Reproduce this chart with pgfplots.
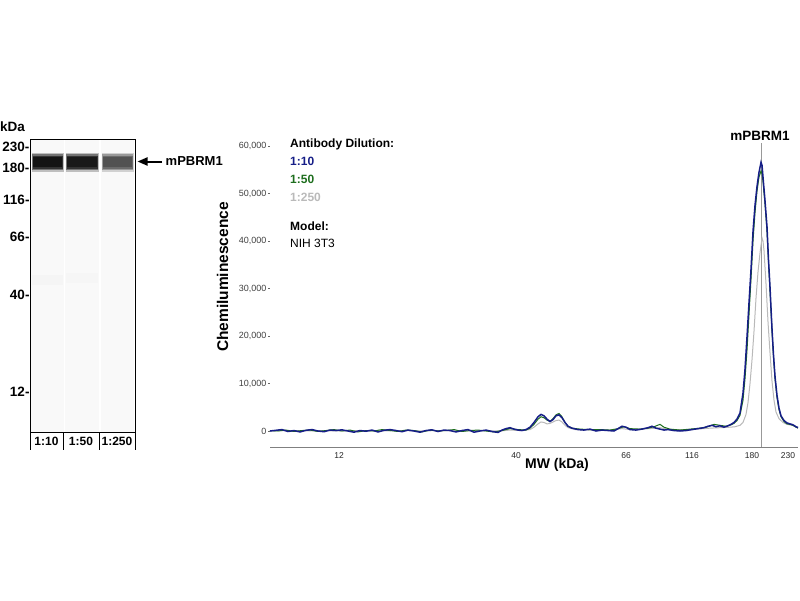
\documentclass[border=0pt]{standalone}
\usepackage{pgfplots}
\pgfplotsset{compat=1.18}
\usepackage{fontspec}
\setmainfont{Liberation Sans}
\usetikzlibrary{arrows.meta}
\definecolor{cblue}{RGB}{22,30,135}
\definecolor{cgreen}{RGB}{30,110,30}
\definecolor{cgray}{RGB}{185,185,185}
\newcommand{\fs}[1]{\fontsize{#1}{#1}\selectfont}
\begin{document}
\begin{tikzpicture}[x=1pt,y=1pt]
\path[use as bounding box] (0,0) rectangle (800,-600);
% ---------------- gel ----------------
\begin{axis}[
  at={(30pt,-432pt)}, anchor=south west,
  scale only axis, width=105pt, height=293pt,
  xmin=30, xmax=135, ymin=-432, ymax=-139,
  axis on top,
  axis line style={line width=1pt, black},
  xtick=\empty,
  ytick={-147,-168,-200,-237,-295,-392},
  yticklabels={230-,180-,116-,66-,40-,12-},
  major tick length=0pt,
  yticklabel style={font=\fs{13.5}\bfseries, inner sep=0.3pt},
  clip=false,
]
% lane backgrounds
\addplot[fill=black!2.5, draw=none] coordinates {(31,-432)(63.5,-432)(63.5,-139)(31,-139)} -- cycle;
\addplot[fill=black!2.5, draw=none] coordinates {(65,-432)(99,-432)(99,-139)(65,-139)} -- cycle;
\addplot[fill=black!2.5, draw=none] coordinates {(100.5,-432)(134,-432)(134,-139)(100.5,-139)} -- cycle;
% faint smudges
\addplot[fill=black!4, draw=none] coordinates {(32,-275)(63,-275)(63,-285)(32,-285)} -- cycle;
\addplot[fill=black!3.5, draw=none] coordinates {(66,-273)(98,-273)(98,-283)(66,-283)} -- cycle;
% lane 1 band
\addplot[fill=black!25, draw=none] coordinates {(31.5,-152.5)(63.5,-152.5)(63.5,-171.5)(31.5,-171.5)} -- cycle;
\addplot[fill=black!55, draw=none] coordinates {(32,-154)(63,-154)(63,-170)(32,-170)} -- cycle;
\addplot[fill=black!80, draw=none] coordinates {(32.5,-155.5)(62.5,-155.5)(62.5,-168.5)(32.5,-168.5)} -- cycle;
\addplot[fill=black!92, draw=none] coordinates {(33,-157)(62,-157)(62,-167)(33,-167)} -- cycle;
% lane 2 band
\addplot[fill=black!25, draw=none] coordinates {(65.5,-152.5)(98.5,-152.5)(98.5,-171.5)(65.5,-171.5)} -- cycle;
\addplot[fill=black!55, draw=none] coordinates {(66,-154)(98,-154)(98,-170)(66,-170)} -- cycle;
\addplot[fill=black!80, draw=none] coordinates {(66.5,-155.5)(97.5,-155.5)(97.5,-168.5)(66.5,-168.5)} -- cycle;
\addplot[fill=black!90, draw=none] coordinates {(67,-157)(97,-157)(97,-167)(67,-167)} -- cycle;
% lane 3 band
\addplot[fill=black!18, draw=none] coordinates {(101.5,-152.5)(133.5,-152.5)(133.5,-171.5)(101.5,-171.5)} -- cycle;
\addplot[fill=black!40, draw=none] coordinates {(102,-154)(133,-154)(133,-170)(102,-170)} -- cycle;
\addplot[fill=black!58, draw=none] coordinates {(102.5,-155.5)(132.5,-155.5)(132.5,-168.5)(102.5,-168.5)} -- cycle;
\addplot[fill=black!68, draw=none] coordinates {(103,-157)(132,-157)(132,-167)(103,-167)} -- cycle;
\end{axis}
% gel decorations
\node[anchor=west, inner sep=0, font=\fs{13.5}\bfseries] at (0,-127) {kDa};
\foreach \xx in {30,63,99,135} \draw[line width=0.9pt] (\xx,-432) -- (\xx,-450);
\node[font=\fs{12}\bfseries, inner sep=0] at (46.5,-441) {1:10};
\node[font=\fs{12}\bfseries, inner sep=0] at (81,-441) {1:50};
\node[font=\fs{12}\bfseries, inner sep=0] at (117,-441) {1:250};
\draw[line width=2pt, -{Triangle[length=10pt,width=8pt]}] (162,-161.5) -- (137.5,-161.5);
\node[anchor=west, inner sep=0, font=\fs{13}\bfseries] at (165.5,-161.5) {mPBRM1};
% ---------------- electropherogram ----------------
\begin{axis}[
  at={(270pt,-447pt)}, anchor=south west,
  scale only axis, width=528pt, height=307pt,
  xmin=270, xmax=798, ymin=-3370, ymax=61300,
  axis line style={draw=none},
  xtick pos=bottom, ytick pos=left,
  xtick={339,516,626,692,752,788},
  xticklabels={12,40,66,116,180,230},
  xtick style={draw=none},
  ytick={0,10000,20000,30000,40000,50000,60000},
  scaled y ticks=false,
  /pgf/number format/fixed,
  /pgf/number format/1000 sep={,},
  /pgf/number format/assume math mode=true,
  ytick style={black!60, line width=0.6pt},
  tick align=outside, major tick length=2pt,
  yticklabel style={font=\fs{9}, text=black!75, inner sep=1.5pt},
  xticklabel style={font=\fs{8.5}, text=black!85},
  clip=false,
]
\draw[black!50, line width=0.8pt] (rel axis cs:0,0) -- (rel axis cs:1,0);
\addplot[black!40, line width=0.8pt] coordinates {(761,-3370)(761,60600)};
% 1:250
\addplot[cgray, line width=1pt] coordinates {
(270,0)(280,100)(290,0)(300,100)(310,0)(320,100)(340,0)(360,100)(380,0)(400,100)
(420,0)(440,100)(460,0)(480,100)(500,0)(510,200)(520,100)(530,300)(534,800)(538,1500)
(541,1900)(544,1800)(547,1500)(550,1600)(553,1900)(556,2200)(559,2300)(562,1900)(565,1200)
(568,700)(575,300)(590,200)(610,200)(622,500)(630,300)(650,500)(660,700)(670,300)(690,300)
(710,600)(720,700)(730,800)(735,900)(740,1200)(743,1800)(746,3500)(748,6000)(750,10000)
(752,15000)(754,21000)(756,28000)(758,33500)(760,37500)(762,40700)(763,40000)(764,38000)
(766,31000)(768,23000)(770,16500)(772,10500)(774,6500)(776,4000)(779,2600)(783,1800)
(787,1400)(792,1200)(798,800)};
% 1:50
\addplot[cgreen, line width=1pt] coordinates {
(270,100)(278,0)(286,200)(294,-100)(302,100)(310,200)(318,-100)(326,100)(334,300)(342,0)
(350,200)(358,-200)(366,100)(374,0)(382,300)(390,100)(398,-100)(406,200)(414,100)(422,-200)
(430,200)(438,0)(446,100)(454,300)(462,-100)(470,100)(478,200)(486,0)(494,-200)(502,100)
(510,500)(518,300)(526,200)(530,600)(534,1400)(538,2500)(541,3000)(544,2800)(547,2300)
(550,2000)(553,2600)(556,3400)(559,3700)(562,3000)(565,1800)(568,1000)(572,600)(580,400)
(590,300)(600,300)(610,200)(618,500)(624,900)(630,500)(640,400)(648,600)(654,900)(660,1400)
(664,800)(670,400)(680,200)(690,400)(700,600)(708,900)(714,1400)(720,1200)(726,1000)
(731,1300)(734,1600)(737,2200)(740,3300)(743,6500)(745,11000)(747,17000)(749,24500)
(751,32000)(753,40000)(755,46000)(757,50500)(759,53500)(761,54800)(762,54200)(763,52500)
(765,47800)(767,42000)(768.5,35500)(770,29500)(772,21000)(773.5,15500)(775,11000)(777,7000)
(779,4500)(781,3000)(784,2000)(787,1500)(790,1400)(793,1200)(796,800)(798,600)};
% 1:10
\addplot[cblue, line width=1.5pt] coordinates {
(270,0)(276,150)(282,300)(288,-100)(294,100)(300,-200)(306,150)(312,300)(318,0)(324,-150)
(330,200)(336,100)(342,250)(348,0)(354,-250)(360,100)(366,-50)(372,200)(378,-200)(384,150)
(390,300)(396,100)(402,-150)(408,200)(414,0)(420,-250)(426,100)(432,250)(438,-100)(444,200)
(450,100)(456,-200)(462,100)(468,300)(474,-250)(480,0)(486,200)(492,-100)(498,-300)(502,200)
(506,500)(510,700)(514,400)(518,200)(522,100)(526,300)(530,800)(534,1800)(538,3000)(541,3500)
(544,3200)(547,2500)(550,2000)(553,2400)(556,3200)(559,3400)(562,2800)(565,1800)(568,1000)
(572,600)(578,300)(584,200)(590,400)(596,0)(602,200)(608,100)(614,0)(618,500)(622,1000)
(626,800)(630,300)(636,200)(642,400)(648,700)(652,1000)(656,600)(660,400)(664,200)(668,300)
(674,100)(680,0)(686,100)(692,300)(698,500)(704,700)(708,1000)(712,1200)(716,900)(720,1100)
(724,800)(728,1100)(731,1400)(734,1800)(737,2500)(740,3800)(743,8000)(745,13000)(747,19800)
(749,27000)(751,34000)(753,42000)(755,47500)(757,51500)(759,54500)(761,56600)(762,56000)
(763,53500)(765,48500)(767,43000)(768.5,36000)(770,30300)(772,21500)(773.5,16000)(775,11500)
(777,7500)(779,4800)(781,3200)(784,2200)(787,1700)(790,1500)(793,1300)(796,900)(798,700)};
\end{axis}
% labels of the electropherogram
\node[rotate=90, anchor=base, inner sep=0, font=\fs{15.5}\bfseries] at (228,-277) {Chemiluminescence};
\node[anchor=base, inner sep=0, font=\fs{14}\bfseries] at (557,-468) {MW (kDa)};
\node[anchor=base, inner sep=0, font=\fs{13.5}\bfseries] at (760,-140) {mPBRM1};
\node[anchor=base west, inner sep=0, font=\fs{12}\bfseries] at (290,-147) {Antibody Dilution:};
\node[anchor=base west, inner sep=0, font=\fs{12}\bfseries, text=cblue] at (290,-165.5) {1:10};
\node[anchor=base west, inner sep=0, font=\fs{12}\bfseries, text=cgreen] at (290,-183.5) {1:50};
\node[anchor=base west, inner sep=0, font=\fs{12}\bfseries, text=black!27] at (290,-201.5) {1:250};
\node[anchor=base west, inner sep=0, font=\fs{12}\bfseries] at (290,-230) {Model:};
\node[anchor=base west, inner sep=0, font=\fs{12}] at (290,-247.5) {NIH 3T3};
\end{tikzpicture}
\end{document}
